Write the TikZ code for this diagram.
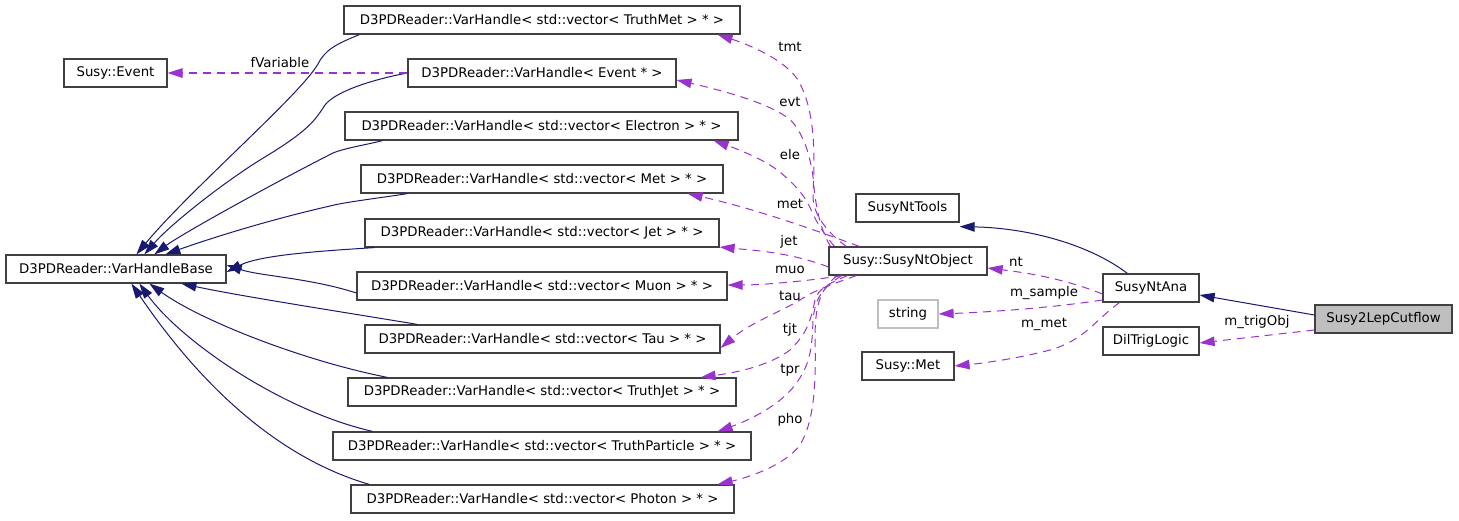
\documentclass[tikz,border=0pt]{standalone}
\usepackage{fontspec}
\setmainfont{DejaVu Sans}
\usetikzlibrary{arrows.meta}
\definecolor{inhc}{RGB}{25,25,112}
\definecolor{usec}{RGB}{154,50,205}
\definecolor{bordc}{RGB}{64,64,64}
\definecolor{grayb}{RGB}{191,191,191}
\begin{document}
\begin{tikzpicture}[x=1pt,y=-1pt,
  font=\fontsize{13.3}{16}\selectfont,
  box/.style={draw=bordc,line width=1.2pt,fill=white,minimum height=28pt,inner sep=0pt,anchor=center},
  inh/.style={draw=inhc,line width=1pt,-{Triangle[length=15pt,width=9.5pt]}},
  use/.style={draw=usec,line width=1pt,dash pattern=on 8pt off 6pt,-{Triangle[length=15pt,width=9.5pt]}},
  lbl/.style={inner sep=0pt,anchor=center}]
\useasboundingbox (0,0) rectangle (1459,520);
% nodes
\node[box,minimum width=396pt] (tmt) at (542,20) {D3PDReader::VarHandle< std::vector< TruthMet > * >};
\node[box,minimum width=103pt] (sevt) at (115.5,73) {Susy::Event};
\node[box,minimum width=268pt] (evt) at (542,73) {D3PDReader::VarHandle< Event * >};
\node[box,minimum width=393pt] (ele) at (541.5,126) {D3PDReader::VarHandle< std::vector< Electron > * >};
\node[box,minimum width=362pt] (met) at (542,179) {D3PDReader::VarHandle< std::vector< Met > * >};
\node[box,minimum width=354pt] (jet) at (542,233) {D3PDReader::VarHandle< std::vector< Jet > * >};
\node[box,minimum width=220pt] (vhb) at (116,269) {D3PDReader::VarHandleBase};
\node[box,minimum width=370pt] (muo) at (542,286) {D3PDReader::VarHandle< std::vector< Muon > * >};
\node[box,minimum width=355pt] (tau) at (542.5,339) {D3PDReader::VarHandle< std::vector< Tau > * >};
\node[box,minimum width=388pt] (tjt) at (542,392) {D3PDReader::VarHandle< std::vector< TruthJet > * >};
\node[box,minimum width=418pt] (tpr) at (542,446) {D3PDReader::VarHandle< std::vector< TruthParticle > * >};
\node[box,minimum width=383pt] (pho) at (542.5,499) {D3PDReader::VarHandle< std::vector< Photon > * >};
\node[box,minimum width=103pt] (tools) at (907.5,208) {SusyNtTools};
\node[box,minimum width=158pt] (sno) at (908,261) {Susy::SusyNtObject};
\node[box,minimum width=60pt,draw=grayb] (str) at (908,314) {string};
\node[box,minimum width=92pt] (smet) at (908,366) {Susy::Met};
\node[box,minimum width=96pt] (ana) at (1151,288) {SusyNtAna};
\node[box,minimum width=96pt] (dil) at (1151,341) {DilTrigLogic};
\node[box,minimum width=137pt,fill=grayb] (cut) at (1383.5,319) {Susy2LepCutflow};
% inheritance edges to VarHandleBase
\draw[inh] ([xshift=16pt]tmt.south west) .. controls (336,44) and (325,50) .. (318,64) .. controls (300,95) and (190,190) .. ([xshift=131pt]vhb.north west);
\draw[inh] (evt.west) .. controls (370,80) and (335,92) .. (325,105) .. controls (315,120) and (310,130) .. (260,160) .. controls (220,185) and (170,225) .. ([xshift=139pt]vhb.north west);
\draw[inh] ([xshift=38pt]ele.south west) .. controls (370,144) and (345,148) .. (333,153) .. controls (270,185) and (180,235) .. ([xshift=149pt]vhb.north west);
\draw[inh] ([xshift=47pt]met.south west) .. controls (380,198) and (345,202) .. (330,206) .. controls (260,222) and (200,242) .. ([xshift=160pt]vhb.north west);
\draw[inh] ([xshift=10pt]jet.south west) .. controls (320,251) and (260,255) .. ([yshift=-3pt]vhb.east);
\draw[inh] ([yshift=-7pt]muo.west) .. controls (310,278) and (260,276) .. ([yshift=4pt]vhb.east);
\draw[inh] ([xshift=53pt]tau.north west) .. controls (330,310) and (240,296) .. ([xshift=176pt]vhb.south west);
\draw[inh] ([xshift=40pt]tjt.north west) .. controls (300,360) and (200,320) .. ([xshift=144pt]vhb.south west);
\draw[inh] ([xshift=40pt]tpr.north west) .. controls (280,410) and (180,340) .. ([xshift=134pt]vhb.south west);
\draw[inh] ([xshift=19pt]pho.north west) .. controls (250,450) and (170,340) .. ([xshift=126pt]vhb.south west);
% usage edges from SusyNtObject
\draw[use] ([xshift=18pt]sno.north west) .. controls (830,235) and (812,215) .. (813,195) .. controls (815,150) and (815,110) .. (798,80) .. controls (785,60) and (750,45) .. ([xshift=-23pt]tmt.south east);
\draw[use] ([xshift=2pt]sno.north west) .. controls (818,225) and (815,200) .. (813,177) .. controls (810,155) and (805,140) .. (795,125) .. controls (780,105) and (720,90) .. ([yshift=-7pt]evt.east);
\draw[use] ([xshift=6pt]sno.north west) .. controls (825,235) and (818,225) .. (812,212) .. controls (805,195) and (795,185) .. (780,172) .. controls (765,160) and (740,150) .. ([xshift=-25pt]ele.south east);
\draw[use] ([xshift=31pt]sno.north west) .. controls (820,232) and (760,210) .. ([xshift=-36pt]met.south east);
\draw[use] ([yshift=-6pt]sno.west) .. controls (790,252) and (750,250) .. ([yshift=-14pt]jet.east);
\draw[use] ([xshift=14pt]sno.south west) .. controls (800,282) and (760,285) .. ([yshift=1pt]muo.east);
\draw[use] ([xshift=28pt]sno.south west) .. controls (830,285) and (815,290) .. (800,300) .. controls (780,312) and (750,323) .. ([yshift=-9pt]tau.east);
\draw[use] ([xshift=19pt]sno.south west) .. controls (825,285) and (818,290) .. (815,300) .. controls (810,325) and (805,335) .. (790,350) .. controls (770,365) and (740,372) .. ([xshift=-36pt]tjt.north east);
\draw[use] ([xshift=13pt]sno.south west) .. controls (820,290) and (815,300) .. (813,320) .. controls (812,350) and (810,365) .. (795,385) .. controls (780,405) and (750,420) .. ([xshift=-34pt]tpr.north east);
\draw[use] ([xshift=9pt]sno.south west) .. controls (818,290) and (815,310) .. (815,340) .. controls (816,380) and (815,420) .. (800,445) .. controls (785,465) and (750,477) .. ([xshift=-17pt]pho.north east);
\node[lbl] (ltmt) at (790,47) {tmt};
\node[lbl] (levt) at (790,102) {evt};
\node[lbl] (lele) at (790,155) {ele};
\node[lbl] (lmet) at (790,204) {met};
\node[lbl] (ljet) at (789,242) {jet};
\node[lbl] (lmuo) at (790,270) {muo};
\node[lbl] (ltau) at (790,296) {tau};
\node[lbl] (ltjt) at (790,330) {tjt};
\node[lbl] (ltpr) at (790,370) {tpr};
\node[lbl] (lpho) at (790,420) {pho};
% fVariable
\draw[use,line width=1.4pt] (evt.west) -- (sevt.east);
\node[lbl] (lfv) at (280,63) {fVariable};
% right part
\draw[inh] ([xshift=25pt]ana.north west) .. controls (1090,245) and (1030,228) .. ([yshift=-4pt]tools.south east);
\draw[use] ([yshift=-6pt]ana.west) .. controls (1060,277) and (1020,272) .. ([yshift=-7pt]sno.east);
\draw[use] ([yshift=-12pt]ana.west) .. controls (1050,308) and (990,312) .. (str.east);
\draw[use] ([xshift=17pt]ana.south west) .. controls (1095,320) and (1085,340) .. (1050,350) .. controls (1020,358) and (985,363) .. (smet.east);
\node[lbl] (lnt) at (1016,262) {nt};
\node[lbl] (lms) at (1044,293) {m\_sample};
\node[lbl] (lmm) at (1044,324) {m\_met};
\draw[inh] ([yshift=4pt]cut.west) -- ([yshift=-7pt]ana.east);
\draw[use] ([yshift=-11pt]cut.west) -- ([yshift=-2pt]dil.east);
\node[lbl] (ltrig) at (1257,322) {m\_trigObj};
\end{tikzpicture}
\end{document}
